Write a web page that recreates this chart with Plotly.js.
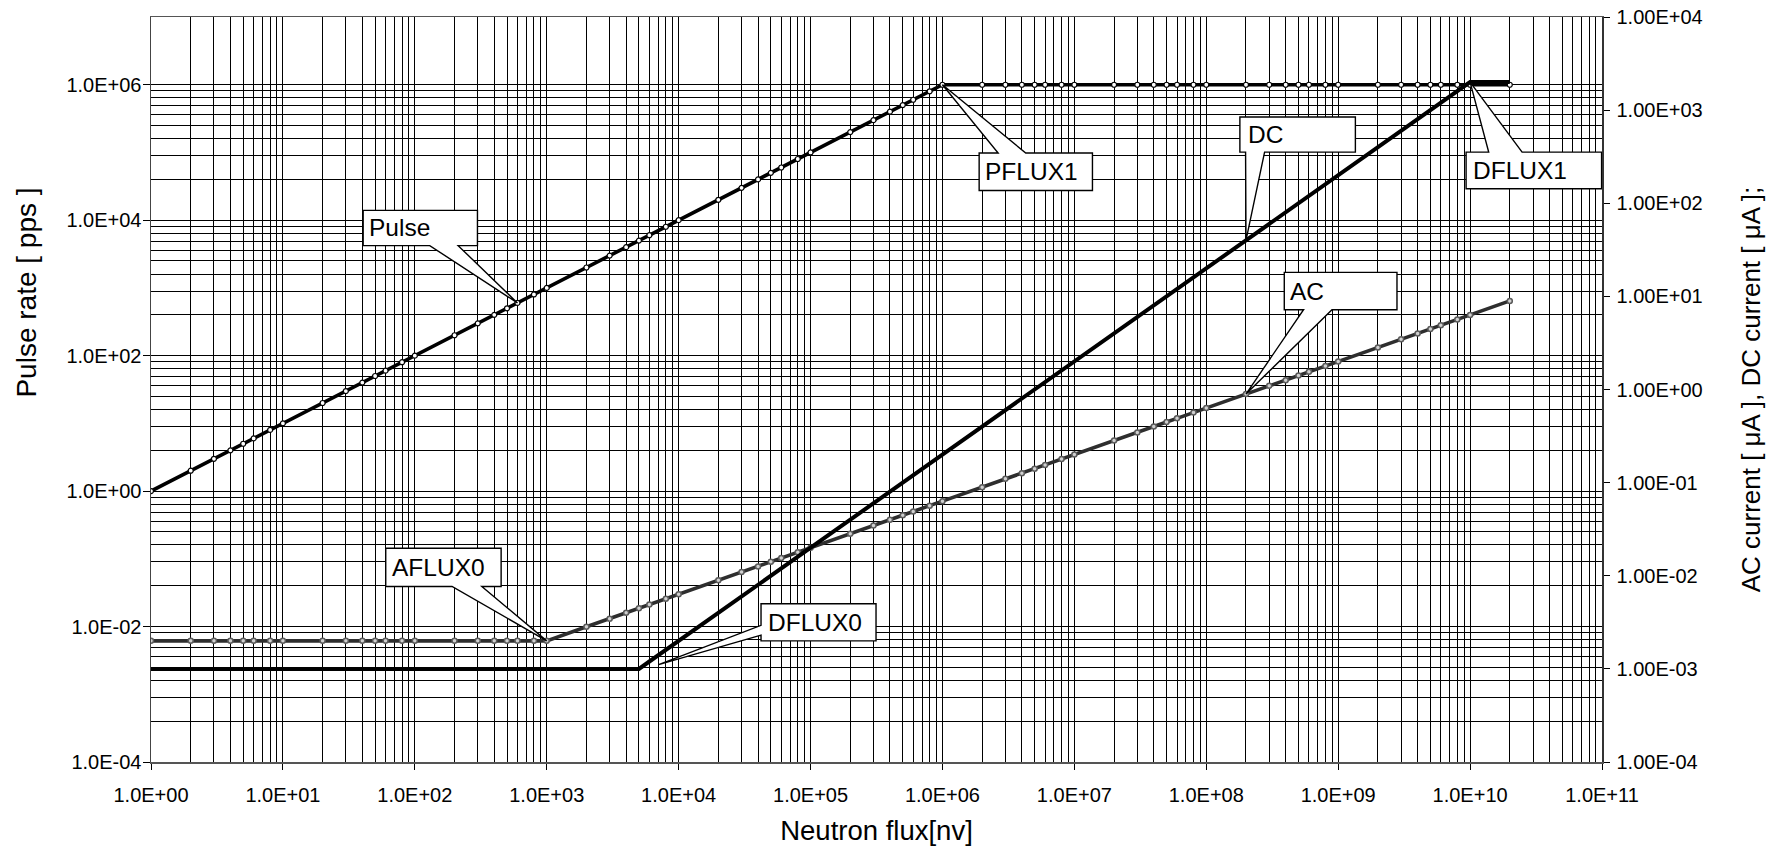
<!DOCTYPE html>
<html><head><meta charset="utf-8">
<script src="https://cdn.plot.ly/plotly-3.0.1.min.js"></script>
<style>html,body{margin:0;padding:0;background:#fff}#chart{width:1776px;height:849px}</style>
</head><body><div id="chart"></div>
<script>
// ---- data ----
const flux = [1,2,3,4,5,6,8,
  10,20,30,40,50,60,80,
  100,200,300,400,500,600,800,
  1e3,2e3,3e3,4e3,5e3,6e3,8e3,
  1e4,2e4,3e4,4e4,5e4,6e4,8e4,
  1e5,2e5,3e5,4e5,5e5,6e5,8e5,
  1e6,2e6,3e6,4e6,5e6,6e6,8e6,
  1e7,2e7,3e7,4e7,5e7,6e7,8e7,
  1e8,2e8,3e8,4e8,5e8,6e8,8e8,
  1e9,2e9,3e9,4e9,5e9,6e9,8e9,
  1e10,2e10];
const pulseRate = [1,2,3,4,5,6,8,
  10,20,30,40,50,60,80,
  100,200,300,400,500,600,800,
  1e3,2e3,3e3,4e3,5e3,6e3,8e3,
  1e4,2e4,3e4,4e4,5e4,6e4,8e4,
  1e5,2e5,3e5,4e5,5e5,6e5,8e5,
  1e6,1e6,1e6,1e6,1e6,1e6,1e6,
  1e6,1e6,1e6,1e6,1e6,1e6,1e6,
  1e6,1e6,1e6,1e6,1e6,1e6,1e6,
  1e6,1e6,1e6,1e6,1e6,1e6,1e6,
  1e6,1e6];
const acCurrent = [0.002,0.002,0.002,0.002,0.002,0.002,0.002,
  0.002,0.002,0.002,0.002,0.002,0.002,0.002,
  0.002,0.002,0.002,0.002,0.002,0.002,0.002,
  0.002,0.00283,0.00346,0.004,0.00447,0.0049,0.00566,
  0.00632,0.00894,0.0110,0.0126,0.0141,0.0155,0.0179,
  0.02,0.0283,0.0346,0.04,0.0447,0.049,0.0566,
  0.0632,0.0894,0.110,0.126,0.141,0.155,0.179,
  0.2,0.283,0.346,0.4,0.447,0.49,0.566,
  0.632,0.894,1.10,1.26,1.41,1.55,1.79,
  2,2.83,3.46,4,4.47,4.9,5.66,
  6.32,8.94];
const dcCurrent = [0.001,0.001,0.001,0.001,0.001,0.001,0.001,
  0.001,0.001,0.001,0.001,0.001,0.001,0.001,
  0.001,0.001,0.001,0.001,0.001,0.001,0.001,
  0.001,0.001,0.001,0.001,0.001,0.0012,0.0016,
  0.002,0.004,0.006,0.008,0.01,0.012,0.016,
  0.02,0.04,0.06,0.08,0.1,0.12,0.16,
  0.2,0.4,0.6,0.8,1,1.2,1.6,
  2,4,6,8,10,12,16,
  20,40,60,80,100,120,160,
  200,400,600,800,1000,1200,1600,
  2000,2000];

const xTickVals = [1,1e1,1e2,1e3,1e4,1e5,1e6,1e7,1e8,1e9,1e10,1e11];
const xTickText = ["1.0E+00","1.0E+01","1.0E+02","1.0E+03","1.0E+04","1.0E+05","1.0E+06","1.0E+07","1.0E+08","1.0E+09","1.0E+10","1.0E+11"];
const yTickVals = [1e-4,1e-2,1,1e2,1e4,1e6];
const yTickText = ["1.0E-04","1.0E-02","1.0E+00","1.0E+02","1.0E+04","1.0E+06"];
const y2TickVals = [1e-4,1e-3,1e-2,1e-1,1,1e1,1e2,1e3,1e4];
const y2TickText = ["1.00E-04","1.00E-03","1.00E-02","1.00E-01","1.00E+00","1.00E+01","1.00E+02","1.00E+03","1.00E+04"];

// ---- styling / layout ----
const FONT = 'Arial, "Liberation Sans", Helvetica, sans-serif';

// minor gridlines (Excel style): 2..9 per decade on x; k^2 per two-decade major step on left y
const xMinor = [];
for (let e = 0; e < 11; e++) for (let k = 2; k <= 9; k++) xMinor.push(k * Math.pow(10, e));
const yMinor = [];
for (let e = -4; e < 6; e += 2) for (let k = 2; k <= 9; k++) yMinor.push(k * k * Math.pow(10, e));

const traces = [
  {x: flux, y: acCurrent, yaxis: 'y2', type: 'scatter', mode: 'lines+markers', name: 'AC',
   line: {color: '#2e2e2e', width: 3.6},
   marker: {symbol: 'circle', size: 5, color: '#d0d0d0', line: {color: '#5a5a5a', width: 1.5}}},
  {x: flux, y: dcCurrent, yaxis: 'y2', type: 'scatter', mode: 'lines', name: 'DC',
   line: {color: '#000', width: 4}},
  {x: flux, y: pulseRate, yaxis: 'y', type: 'scatter', mode: 'lines+markers', name: 'Pulse',
   line: {color: '#000', width: 3.6},
   marker: {symbol: 'circle', size: 5, color: '#fff', line: {color: '#000', width: 1.2}}}
];

// callouts: anchored at a data point, geometry in pixel offsets (x right, y up)
const callouts = [
  {text: 'Pulse',  s: 'pulse', at: 600,  pts: [[-154.3,92.6],[-40,92.6],[-40,57.3],[-59.3,57.3],[0,0],[-87.7,57.3],[-154.3,57.3]], tx: -150, ty: 75},
  {text: 'PFLUX1', s: 'pulse', at: 1e6,  pts: [[36.7,-68.3],[55.7,-68.3],[0,0],[83.3,-68.3],[150,-68.3],[150,-105.7],[36.7,-105.7]], tx: 41, ty: -87},
  {text: 'DFLUX1', s: 'dc',    at: 1e10, pts: [[-4,-70],[18.6,-70],[0,0],[52,-70],[131.5,-70],[131.5,-106.7],[-4,-106.7]], tx: 0.5, ty: -88.4},
  {text: 'DC',     s: 'dc',    at: 2e8,  pts: [[-6.1,123.3],[109.4,123.3],[109.4,88.2],[18.6,88.2],[0,0],[-0.4,88.2],[-6.1,88.2]], tx: 0, ty: 105.7},
  {text: 'AC',     s: 'ac',    at: 2e8,  pts: [[38.3,121.7],[151,121.7],[151,84.3],[86,84.3],[0,0],[57.6,84.3],[38.3,84.3]], tx: 42, ty: 103},
  {text: 'AFLUX0', s: 'ac',    at: 1e3,  pts: [[-161,92.6],[-45.6,92.6],[-45.6,54.4],[-64.9,54.4],[0,0],[-94.7,54.4],[-161,54.4]], tx: -157, ty: 73.5},
  {text: 'DFLUX0', s: 'dc',    at: 5e3,  pts: [[122.1,65.2],[237.1,65.2],[237.1,28],[122.1,28],[122.1,33.7],[19.7,4.2],[122.1,43.5]], tx: 127, ty: 46.6}
];
const seriesOf = {pulse: {y: pulseRate, ref: 'y'}, ac: {y: acCurrent, ref: 'y2'}, dc: {y: dcCurrent, ref: 'y2'}};

const shapes = [], annotations = [];
callouts.forEach(c => {
  const i = flux.indexOf(c.at);
  const sv = seriesOf[c.s];
  const path = 'M' + c.pts.map(p => p[0] + ',' + p[1]).join(' L') + ' Z';
  shapes.push({type: 'path', xref: 'x', yref: sv.ref, xsizemode: 'pixel', ysizemode: 'pixel',
    xanchor: flux[i], yanchor: sv.y[i], path: path,
    fillcolor: '#fff', line: {color: '#000', width: 1.4}, layer: 'above'});
  annotations.push({xref: 'x', yref: sv.ref, x: Math.log10(flux[i]), y: Math.log10(sv.y[i]),
    xshift: c.tx, yshift: c.ty, xanchor: 'left', yanchor: 'middle', showarrow: false,
    text: c.text, font: {family: FONT, size: 24.5, color: '#000'}});
});
annotations.push({xref: 'paper', yref: 'paper', x: -0.0855, y: 0.63, textangle: -90,
  xanchor: 'center', yanchor: 'middle', showarrow: false,
  text: 'Pulse rate [ pps ]', font: {family: FONT, size: 28, color: '#000'}});

const layout = {
  width: 1776, height: 849,
  margin: {l: 151, r: 174, t: 17, b: 87, pad: 0},
  paper_bgcolor: '#fff', plot_bgcolor: '#fff',
  showlegend: false,
  font: {family: FONT, color: '#000', size: 20},
  xaxis: {type: 'log', range: [0, 11], tickmode: 'array', tickvals: xTickVals, ticktext: xTickText,
    ticks: 'outside', ticklen: 6, tickcolor: '#000', tickwidth: 1, ticklabelstandoff: 8,
    showgrid: true, gridcolor: '#000', gridwidth: 1,
    minor: {tickmode: 'array', tickvals: xMinor, showgrid: true, gridcolor: '#000', gridwidth: 1, ticks: ''},
    showline: true, linecolor: '#555', linewidth: 1.5, mirror: true, zeroline: false,
    tickfont: {family: FONT, size: 20, color: '#000'},
    title: {text: 'Neutron flux[nv]', font: {family: FONT, size: 27.5, color: '#000'}, standoff: 16}},
  yaxis: {type: 'log', range: [-4, 7], tickmode: 'array', tickvals: yTickVals, ticktext: yTickText,
    ticks: 'outside', ticklen: 7, tickcolor: '#000', tickwidth: 1, ticklabelstandoff: -3,
    showgrid: true, gridcolor: '#000', gridwidth: 1,
    minor: {tickmode: 'array', tickvals: yMinor, showgrid: true, gridcolor: '#000', gridwidth: 1, ticks: ''},
    showline: true, linecolor: '#444', linewidth: 1.5, zeroline: false,
    tickfont: {family: FONT, size: 20, color: '#000'}},
  yaxis2: {type: 'log', range: [-4, 4], overlaying: 'y', side: 'right', anchor: 'x',
    tickmode: 'array', tickvals: y2TickVals, ticktext: y2TickText,
    ticks: 'outside', ticklen: 6, tickcolor: '#000', tickwidth: 1, ticklabelstandoff: 3,
    showgrid: false, zeroline: false, showline: true, linecolor: '#333', linewidth: 1.5,
    tickfont: {family: FONT, size: 20, color: '#000'},
    title: {text: 'AC current [ μA ], DC current [ μA ];', font: {family: FONT, size: 26, color: '#000'}, standoff: 40}},
  yaxis3: {type: 'log', range: [-4, 4], overlaying: 'y', side: 'right', anchor: 'x',
    tickmode: 'array', tickvals: y2TickVals, showticklabels: false,
    ticks: 'inside', ticklen: 6, tickcolor: '#000', tickwidth: 1,
    showgrid: false, zeroline: false, showline: false},
  shapes: shapes,
  annotations: annotations
};

Plotly.newPlot('chart', traces, layout, {displayModeBar: false, staticPlot: true});
</script></body></html>
